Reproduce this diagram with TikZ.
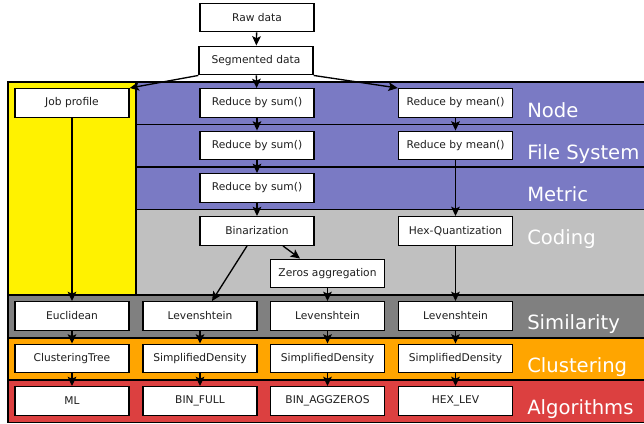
\documentclass[tikz,border=0pt]{standalone}
\usepackage{fontspec}
\setmainfont{DejaVu Sans}
\usepackage{tikz}
\usetikzlibrary{arrows.meta}
\usetikzlibrary{calc}
\usepackage{xcolor}
\definecolor{bandpurple}{RGB}{122,122,196}
\definecolor{bandlight}{RGB}{192,192,192}
\definecolor{banddark}{RGB}{128,128,128}
\definecolor{bandorange}{RGB}{255,165,0}
\definecolor{bandred}{RGB}{220,64,64}
\definecolor{boxtext}{RGB}{30,30,30}

\begin{document}
\begin{tikzpicture}[x=0.75pt, y=-0.75pt,
		stepbox/.style={draw=black, fill=white, line width=1.05pt, minimum width=85.5pt, minimum height=21.4pt, inner sep=0pt, text=boxtext, font=\fontsize{8}{9.6}\selectfont},
		band/.style={draw=black, line width=0.9pt},
		layer/.style={anchor=base west, text=white, inner sep=0pt, font=\fontsize{14.7}{17}\selectfont},
		flow/.style={-{Stealth[length=7pt, width=6.5pt, inset=1.5pt]}, line width=1pt}]
		\clip (0,0) rectangle (644,424);

		% layer bands
		\draw[band, fill=yellow] (8,82) rectangle (136,295);
		\draw[band, fill=bandpurple] (136,82) rectangle (650,124.5);
		\draw[band, fill=bandpurple] (136,124.5) rectangle (650,167);
		\draw[band, fill=bandpurple] (136,167) rectangle (650,209.5);
		\draw[band, fill=bandlight] (136,209.5) rectangle (650,295);
		\draw[band, fill=banddark] (8,295) rectangle (650,338);
		\draw[band, fill=bandorange] (8,338) rectangle (650,380);
		\draw[band, fill=bandred] (8,380) rectangle (650,422.5);

		% layer names
		\node[layer] (lnode) at (527,118) {Node};
		\node[layer] (lfs) at (527,160) {File System};
		\node[layer] (lmetric) at (527,202) {Metric};
		\node[layer] (lcoding) at (527,245) {Coding};
		\node[layer] (lsim) at (527,330) {Similarity};
		\node[layer] (lclust) at (527,373) {Clustering};
		\node[layer] (lalgo) at (527,415) {Algorithms};

		% input
		\node[stepbox] (raw) at (257,17.5) {Raw data};
		\node[stepbox] (seg) at (256,60.5) {Segmented data};

		% reductions
		\node[stepbox] (job) at (72,103) {Job profile};
		\node[stepbox] (sum1) at (257,103) {Reduce by sum()};
		\node[stepbox] (sum2) at (257,145.5) {Reduce by sum()};
		\node[stepbox] (sum3) at (257,188) {Reduce by sum()};
		\node[stepbox] (mean1) at (455.5,103) {Reduce by mean()};
		\node[stepbox] (mean2) at (455.5,145.5) {Reduce by mean()};

		% coding
		\node[stepbox] (bin) at (257,231) {Binarization};
		\node[stepbox] (hex) at (455.5,231) {Hex-Quantization};
		\node[stepbox] (zeros) at (327.5,273.5) {Zeros aggregation};

		% similarity, clustering, algorithms
		\node[stepbox] (euc) at (72,316) {Euclidean};
		\node[stepbox] (lev2) at (200,316) {Levenshtein};
		\node[stepbox] (lev3) at (327.5,316) {Levenshtein};
		\node[stepbox] (lev4) at (455.5,316) {Levenshtein};
		\node[stepbox] (ctree) at (72,358.5) {ClusteringTree};
		\node[stepbox] (dens2) at (200,358.5) {SimplifiedDensity};
		\node[stepbox] (dens3) at (327.5,358.5) {SimplifiedDensity};
		\node[stepbox] (dens4) at (455.5,358.5) {SimplifiedDensity};
		\node[stepbox] (ml) at (72,401) {ML};
		\node[stepbox] (binfull) at (200,401) {BIN\_FULL};
		\node[stepbox] (binagg) at (327.5,401) {BIN\_AGGZEROS};
		\node[stepbox] (hexlev) at (455.5,401) {HEX\_LEV};

		% connections
		\draw[flow] (raw) -- (seg);
		\draw[flow] (seg.south west) -- (job.north east);
		\draw[flow] (seg) -- (sum1);
		\draw[flow] (seg.south east) -- (mean1.north west);
		\draw[flow] (sum1) -- (sum2);
		\draw[flow] (sum2) -- (sum3);
		\draw[flow] (sum3) -- (bin);
		\draw[flow] (mean1) -- (mean2);
		\draw[flow] (mean2) -- (hex);
		\draw[flow] (job) -- (euc);
		\draw[flow] ($(bin.south)+(-10,0)$) -- ($(lev2.north)+(12,0)$);
		\draw[flow] ($(bin.south)+(26,0)$) -- ($(zeros.north)+(-27.5,0)$);
		\draw[flow] (zeros) -- (lev3);
		\draw[flow] (hex) -- (lev4);
		\draw[flow] (euc) -- (ctree);
		\draw[flow] (lev2) -- (dens2);
		\draw[flow] (lev3) -- (dens3);
		\draw[flow] (lev4) -- (dens4);
		\draw[flow] (ctree) -- (ml);
		\draw[flow] (dens2) -- (binfull);
		\draw[flow] (dens3) -- (binagg);
		\draw[flow] (dens4) -- (hexlev);
	\end{tikzpicture}
\end{document}
